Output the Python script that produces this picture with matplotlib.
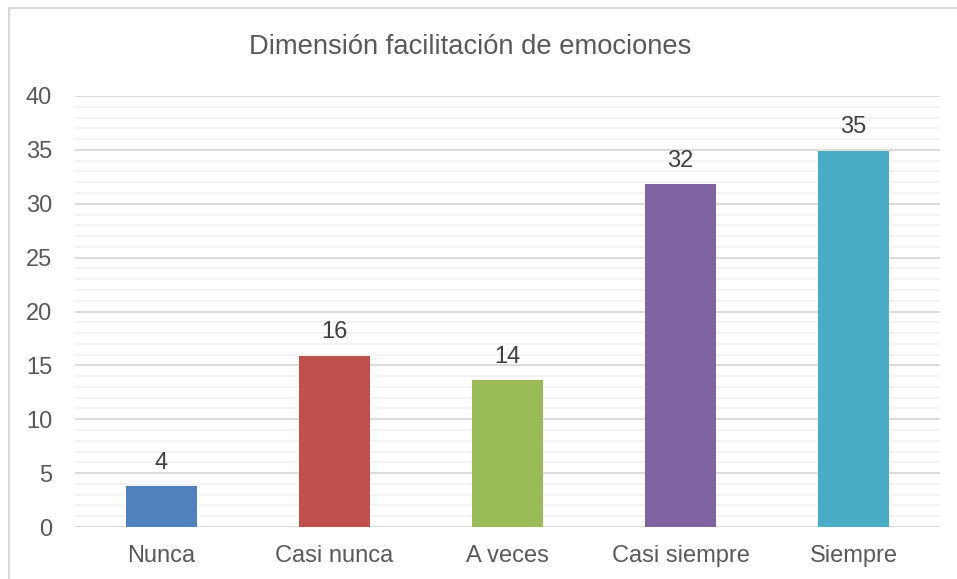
import matplotlib
matplotlib.use("Agg")
import matplotlib.pyplot as plt
from matplotlib.patches import Rectangle
from matplotlib.ticker import MultipleLocator

categories = ["Nunca", "Casi nunca", "A veces", "Casi siempre", "Siempre"]
values = [3.8, 15.9, 13.6, 31.8, 34.9]
labels = ["4", "16", "14", "32", "35"]
colors = ["#4F81BD", "#C0504D", "#9BBB59", "#8064A2", "#4BACC6"]
title = "Dimensión facilitación de emociones"

plt.rcParams['font.family'] = ['Liberation Sans', 'DejaVu Sans']

W, H = 957, 579
fig = plt.figure(figsize=(W/100, H/100), dpi=100)
fig.patch.set_facecolor("white")
# chart frame (cropped on right/bottom)
fig.patches.append(Rectangle((9/W, -0.1), 1.2, 1 - 8/H + 0.1, transform=fig.transFigure,
                             fill=False, edgecolor="#d9d9d9", linewidth=1.5))

ax = fig.add_axes([75/W, 1 - 527/H, 865/W, 431/H])
x = range(len(categories))
bars = ax.bar(x, values, width=0.405, color=colors, zorder=3)
ax.set_xlim(-0.5, len(categories) - 0.5)
ax.set_ylim(0, 40)
ax.yaxis.set_major_locator(MultipleLocator(5))
ax.yaxis.set_minor_locator(MultipleLocator(1))
ax.grid(which="major", axis="y", color="#d9d9d9", linewidth=1.3, zorder=0)
ax.grid(which="minor", axis="y", color="#f2f2f2", linewidth=1.3, zorder=0)
for s in ax.spines.values():
    s.set_visible(False)
ax.tick_params(axis="both", which="both", length=0)
ax.tick_params(axis="y", labelsize=17, labelcolor="#595959", pad=16.5)
ax.tick_params(axis="x", labelsize=17, labelcolor="#595959", pad=13)
ax.set_xticks(list(x))
ax.set_xticklabels(categories)

for b, lab in zip(bars, labels):
    ax.annotate(lab, (b.get_x() + b.get_width()/2, b.get_height()),
                xytext=(0, 9), textcoords="offset points", ha="center", va="bottom",
                fontsize=17, color="#404040")

fig.text(470 / W, 1 - 47/H, title, ha="center", va="center",
         fontsize=19.7, color="#595959")

fig.savefig("out.png", dpi=100)
